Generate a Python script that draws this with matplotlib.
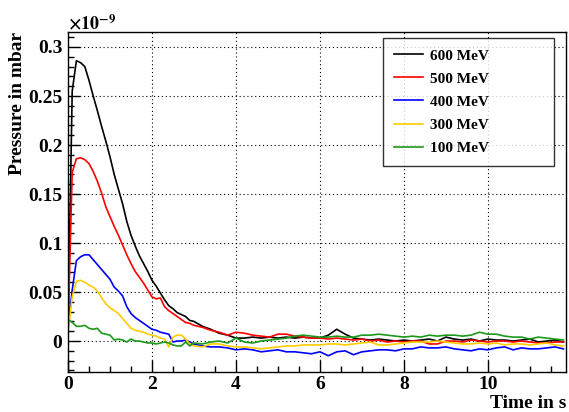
import numpy as np
import matplotlib
matplotlib.use("Agg")
import matplotlib.pyplot as plt
from matplotlib.ticker import MultipleLocator, FuncFormatter

# Zeitachse: fein (0.1 s) bis 3 s, danach 0.2 s
t = np.concatenate([np.arange(0.0, 3.0, 0.1), np.arange(3.0, 11.81, 0.2)])

# Druckwerte in 1e-9 mbar
p600 = [0.010, 0.255, 0.286, 0.284, 0.280, 0.266, 0.250, 0.235, 0.219, 0.204,
        0.188, 0.170, 0.155, 0.140, 0.122, 0.108, 0.097, 0.087, 0.079, 0.071,
        0.062, 0.056, 0.049, 0.042, 0.036, 0.033, 0.029, 0.027, 0.025, 0.021,
        0.020, 0.015, 0.012, 0.008, 0.006, 0.003, 0.003, 0.004, 0.003, 0.004,
        0.003, 0.004, 0.003, 0.004, 0.003, 0.003, 0.006, 0.012, 0.007, 0.003,
        0.002, 0.001, 0.002, 0.001, 0.000, 0.001, 0.000, 0.001, 0.002, 0.000,
        0.004, 0.002, 0.001, 0.002, 0.000, 0.002, 0.001, 0.001, 0.000, 0.001,
        0.002, -0.001, 0.000, 0.001, -0.001]
p500 = [0.012, 0.172, 0.186, 0.187, 0.185, 0.181, 0.173, 0.163, 0.151, 0.137,
        0.127, 0.117, 0.108, 0.098, 0.088, 0.079, 0.071, 0.065, 0.059, 0.052,
        0.045, 0.043, 0.044, 0.035, 0.031, 0.028, 0.025, 0.022, 0.019, 0.018,
        0.016, 0.014, 0.011, 0.009, 0.006, 0.009, 0.008, 0.006, 0.005, 0.004,
        0.007, 0.007, 0.005, 0.004, 0.003, 0.003, 0.002, 0.003, 0.002, 0.001,
        0.002, 0.000, 0.001, -0.001, 0.000, -0.001, 0.000, 0.000, -0.003, -0.003,
        0.000, 0.000, -0.001, 0.001, 0.000, -0.001, 0.000, 0.000, -0.001, 0.000,
        -0.001, -0.002, -0.002, -0.001, -0.001]
p400 = [0.012, 0.052, 0.082, 0.086, 0.088, 0.088, 0.083, 0.078, 0.073, 0.068,
        0.063, 0.055, 0.051, 0.046, 0.035, 0.028, 0.024, 0.021, 0.018, 0.015,
        0.012, 0.011, 0.009, 0.008, 0.007, -0.001, 0.000, 0.000, 0.001, -0.001,
        -0.003, -0.005, -0.006, -0.006, -0.007, -0.009, -0.008, -0.009, -0.011, -0.010,
        -0.009, -0.011, -0.011, -0.012, -0.013, -0.011, -0.015, -0.011, -0.010, -0.014,
        -0.011, -0.010, -0.009, -0.009, -0.010, -0.008, -0.008, -0.006, -0.007, -0.007,
        -0.006, -0.008, -0.009, -0.010, -0.008, -0.009, -0.007, -0.006, -0.009, -0.007,
        -0.008, -0.008, -0.007, -0.006, -0.008]
p300 = [0.009, 0.045, 0.061, 0.062, 0.060, 0.057, 0.055, 0.051, 0.044, 0.038,
        0.034, 0.031, 0.028, 0.023, 0.018, 0.013, 0.011, 0.010, 0.009, 0.007,
        0.006, 0.005, 0.003, 0.002, -0.006, 0.004, 0.006, 0.006, 0.002, -0.003,
        -0.005, -0.006, -0.003, -0.003, -0.005, -0.006, -0.006, -0.007, -0.008, -0.007,
        -0.006, -0.005, -0.005, -0.004, -0.004, -0.004, -0.003, -0.003, -0.004, -0.003,
        -0.002, -0.001, -0.004, -0.004, -0.003, -0.002, -0.001, -0.001, -0.001, 0.000,
        -0.001, -0.002, -0.003, -0.003, -0.002, -0.003, -0.002, -0.004, -0.003, -0.003,
        -0.004, -0.003, -0.002, -0.004, -0.005]
p100 = [0.022, 0.019, 0.015, 0.015, 0.016, 0.013, 0.012, 0.013, 0.008, 0.007,
        0.006, 0.001, 0.002, 0.001, -0.001, 0.002, 0.000, 0.000, -0.001, -0.002,
        -0.002, -0.003, -0.002, -0.001, -0.002, -0.004, -0.005, -0.005, -0.001, -0.005,
        -0.002, -0.003, -0.001, 0.000, -0.002, 0.003, -0.001, -0.002, 0.000, 0.001,
        0.002, 0.003, 0.005, 0.006, 0.005, 0.004, 0.004, 0.005, 0.004, 0.004,
        0.006, 0.006, 0.007, 0.006, 0.005, 0.004, 0.005, 0.004, 0.006, 0.005,
        0.006, 0.006, 0.005, 0.006, 0.009, 0.007, 0.007, 0.005, 0.004, 0.004,
        0.002, 0.004, 0.003, 0.002, 0.001]

serien = [("600 MeV", p600, "black"),
          ("500 MeV", p500, "#ff0000"),
          ("400 MeV", p400, "#0000ff"),
          ("300 MeV", p300, "#ffcc00"),
          ("100 MeV", p100, "#1a991a")]

plt.rcParams['font.family'] = ['Liberation Serif', 'DejaVu Serif']
plt.rcParams['font.weight'] = 'bold'
plt.rcParams['mathtext.fontset'] = 'stix'

fig = plt.figure(figsize=(5.69, 4.12), dpi=100)
ax = fig.add_axes([68/569, 1-372/412, 498/569, 340/412])

for name, werte, farbe in serien:
    ax.plot(t, werte, color=farbe, lw=1.2, label=name)

ax.set_xlim(0, 11.86)
ax.set_ylim(-0.0316, 0.3153)

ax.xaxis.set_major_locator(MultipleLocator(2))
ax.xaxis.set_minor_locator(MultipleLocator(0.5))
ax.yaxis.set_major_locator(MultipleLocator(0.05))
ax.yaxis.set_minor_locator(MultipleLocator(0.01))
ax.yaxis.set_major_formatter(FuncFormatter(lambda v, pos: f"{round(v, 3):g}"))
ax.xaxis.set_major_formatter(FuncFormatter(lambda v, pos: f"{v:g}"))

ax.tick_params(which='both', direction='in', labelsize=14, width=1)
ax.tick_params(which='major', length=8.5)
ax.tick_params(which='minor', length=4.5)
ax.tick_params(axis='y', pad=4)
ax.tick_params(axis='x', pad=3)
for s in ax.spines.values():
    s.set_linewidth(1.0)

ax.grid(True, which='major', color='black', lw=0.8, linestyle=(0, (1, 2.5)))

leg = ax.legend(loc='upper left', bbox_to_anchor=(0.6325, 0.618, 0.3435, 0.364),
                mode='expand', borderaxespad=0, fontsize=11, frameon=True,
                fancybox=False, handlelength=1.9, handletextpad=0.45,
                labelspacing=0.62, borderpad=0.7)
leg.get_frame().set_edgecolor('black')
leg.get_frame().set_linewidth(1.0)

fig.text(68/569, 1-29/412, r'$\times10^{-9}$', fontsize=13, ha='left', va='baseline')
fig.text(18/569, 1-32/412, 'Pressure in mbar', rotation=90, fontsize=14,
         ha='center', va='top')
fig.text(566/569, 1-403/412, 'Time in s', fontsize=14, ha='right', va='center')

fig.savefig("out.png", dpi=100)
